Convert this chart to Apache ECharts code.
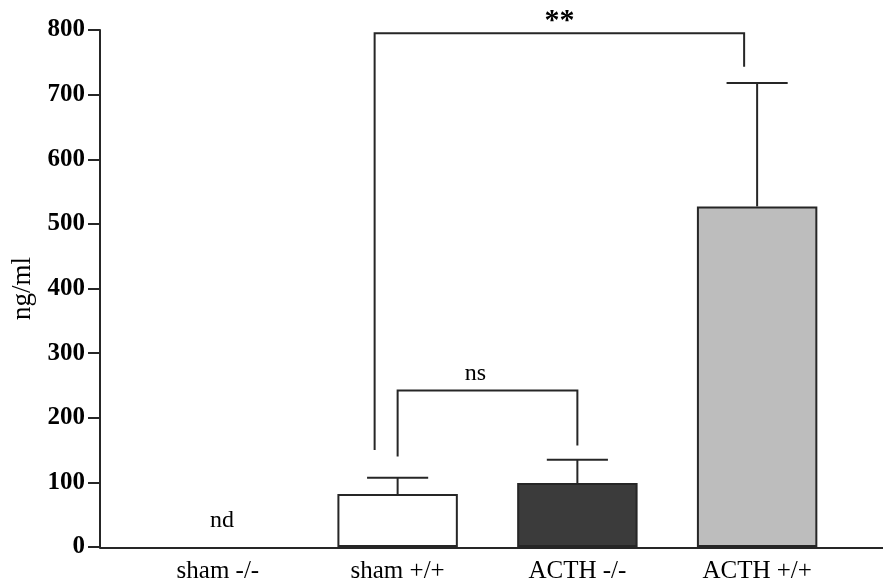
<!DOCTYPE html>
<html>
<head>
<meta charset="utf-8">
<script src="https://cdn.jsdelivr.net/npm/echarts@6/dist/echarts.min.js"></script>
<style>
html,body{margin:0;padding:0;background:#fff;}
#chart{width:883px;height:584px;}
</style>
</head>
<body>
<div id="chart"></div>
<script>
// ---- data ----
const categories = ['sham -/-', 'sham +/+', 'ACTH -/-', 'ACTH +/+'];
const means = [null, 82, 99, 527];
const errors = [null, 25, 36, 191];
const missingLabel = 'nd';
const barColors = ['#ffffff', '#ffffff', '#3b3b3b', '#bdbdbd'];
const yMin = 0, yMax = 800, yStep = 100;
const bracketFrom = [1, 1];
const bracketTo = [3, 2];
const bracketTop = [795, 242];
const bracketLeftEnd = [150, 140];
const bracketRightEnd = [743, 157];
const bracketLabels = ['**', 'ns'];

// ---- styles ----
const ink = '#262626';
const textInk = '#000';
const serif = '"Liberation Serif", "DejaVu Serif", serif';
const legShift = [[-23, -13], [0, 0]];
const labelShift = [0, -12];
const labelFont = ['bold 30px ', '24px '];
const labelLift = [-12, -17];

const chart = echarts.init(document.getElementById('chart'));

const barData = means.map((v, i) => ({
  value: v,
  itemStyle: { color: barColors[i], borderColor: ink, borderWidth: 2 }
}));

const errData = [];
const ndData = [];
means.forEach((m, i) => {
  if (m === null) ndData.push([i, 0]);
  else errData.push([i, m, m + errors[i]]);
});

const bracketData = bracketFrom.map((f, i) => [f, bracketTo[i], bracketTop[i], bracketLeftEnd[i], bracketRightEnd[i], i]);

chart.setOption({
  animation: false,
  backgroundColor: '#ffffff',
  grid: [
    { left: 128, right: 36, top: 30, bottom: 36 },
    { left: 100, right: 0, top: 30, bottom: 36 }
  ],
  xAxis: [
    {
      type: 'category', gridIndex: 0, data: categories,
      axisLine: { show: false }, axisTick: { show: false },
      axisLabel: { color: textInk, fontFamily: serif, fontSize: 25, margin: 12 }
    },
    {
      type: 'value', gridIndex: 1, min: 0, max: 1,
      axisLine: { show: true, onZero: false, lineStyle: { color: ink, width: 2 } },
      axisTick: { show: false }, axisLabel: { show: false }, splitLine: { show: false }
    }
  ],
  yAxis: [
    {
      type: 'value', gridIndex: 0, min: yMin, max: yMax, interval: yStep, offset: 28,
      name: 'ng/ml', nameLocation: 'middle', nameRotate: 90, nameGap: 60,
      nameTextStyle: { color: textInk, fontFamily: serif, fontSize: 27 },
      axisLine: { show: true, lineStyle: { color: ink, width: 2 } },
      axisTick: { show: true, length: 12, lineStyle: { color: ink, width: 2 } },
      axisLabel: { color: textInk, fontFamily: serif, fontSize: 25, fontWeight: 'bold', margin: 15 },
      splitLine: { show: false }
    },
    { type: 'value', gridIndex: 1, show: false, min: 0, max: 1 }
  ],
  series: [
    {
      type: 'bar', xAxisIndex: 0, yAxisIndex: 0, barWidth: '67%',
      data: barData, z: 2
    },
    {
      type: 'custom', xAxisIndex: 0, yAxisIndex: 0, z: 3,
      data: errData,
      renderItem: function (params, api) {
        const x = api.value(0);
        const p0 = api.coord([x, api.value(1)]);
        const p1 = api.coord([x, api.value(2)]);
        const half = api.size([1, 0])[0] * 0.17;
        return {
          type: 'group',
          children: [
            { type: 'line', shape: { x1: p0[0], y1: p0[1], x2: p1[0], y2: p1[1] }, style: { stroke: ink, lineWidth: 2 } },
            { type: 'line', shape: { x1: p1[0] - half, y1: p1[1], x2: p1[0] + half, y2: p1[1] }, style: { stroke: ink, lineWidth: 2 } }
          ]
        };
      }
    },
    {
      type: 'custom', xAxisIndex: 0, yAxisIndex: 0, z: 3,
      data: ndData,
      renderItem: function (params, api) {
        const p = api.coord([api.value(0), api.value(1)]);
        return {
          type: 'text',
          style: { x: p[0] + 4, y: p[1] - 26, text: missingLabel, fill: textInk, font: '24px ' + serif, align: 'center', verticalAlign: 'middle' }
        };
      }
    },
    {
      type: 'custom', xAxisIndex: 0, yAxisIndex: 0, z: 3,
      data: bracketData,
      renderItem: function (params, api) {
        const idx = api.value(5);
        const a = api.coord([api.value(0), api.value(2)]);
        const b = api.coord([api.value(1), api.value(2)]);
        const la = api.coord([api.value(0), api.value(3)]);
        const rb = api.coord([api.value(1), api.value(4)]);
        const xl = a[0] + legShift[idx][0];
        const xr = b[0] + legShift[idx][1];
        return {
          type: 'group',
          children: [
            { type: 'polyline', shape: { points: [[xl, la[1]], [xl, a[1]], [xr, a[1]], [xr, rb[1]]] }, style: { stroke: ink, lineWidth: 2, fill: null } },
            { type: 'text', style: { x: (xl + xr) / 2 + labelShift[idx], y: a[1] + labelLift[idx], text: bracketLabels[idx], fill: textInk, font: labelFont[idx] + serif, align: 'center', verticalAlign: 'middle' } }
          ]
        };
      }
    }
  ]
});
</script>
</body>
</html>
